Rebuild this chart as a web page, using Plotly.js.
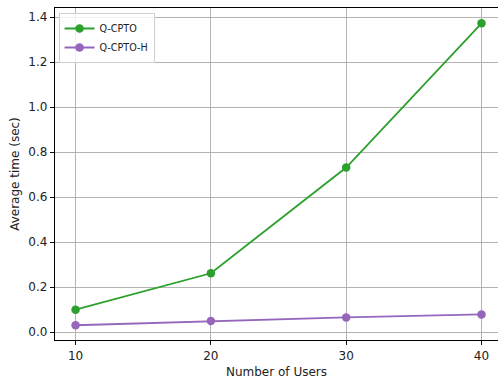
<!DOCTYPE html>
<html>
<head>
<meta charset="utf-8">
<script src="https://cdn.plot.ly/plotly-3.0.1.min.js"></script>
<style>html,body{margin:0;padding:0;background:#fff;}#chart{width:498px;height:379px;}</style>
</head>
<body>
<div id="chart"></div>
<script>
const users = [10, 20, 30, 40];
const qcpto = [0.10, 0.262, 0.732, 1.373];
const qcptoH = [0.031, 0.050, 0.066, 0.079];
const seriesNames = ["Q-CPTO", "Q-CPTO-H"];
const yTicks = [0.0, 0.2, 0.4, 0.6, 0.8, 1.0, 1.2, 1.4];

const font = "DejaVu Sans, sans-serif";
const traces = [
  {x: users, y: qcpto, name: seriesNames[0], mode: "lines+markers",
   line: {color: "#2ca02c", width: 1.8}, marker: {color: "#2ca02c", size: 8.5}},
  {x: users, y: qcptoH, name: seriesNames[1], mode: "lines+markers",
   line: {color: "#9467bd", width: 1.8}, marker: {color: "#9467bd", size: 8.5}}
];
const layout = {
  width: 498, height: 379,
  margin: {l: 55, r: 0, t: 8, b: 39},
  paper_bgcolor: "#fff", plot_bgcolor: "#fff",
  font: {family: font, size: 12, color: "#222"},
  showlegend: true,
  legend: {x: 0.008, y: 0.985, xanchor: "left", yanchor: "top",
    bgcolor: "rgba(255,255,255,0.8)", bordercolor: "#d0d0d0", borderwidth: 1,
    font: {family: font, size: 9.6, color: "#222"}, tracegroupgap: 0},
  xaxis: {range: [8.48, 41.22], tickvals: users, ticktext: users.map(String),
    showgrid: true, gridcolor: "#b0b0b0", gridwidth: 0.95,
    showline: true, linecolor: "#000", linewidth: 1, mirror: true,
    ticks: "outside", ticklen: 4.2, tickcolor: "#000", tickwidth: 0.95,
    zeroline: false,
    title: {text: "Number of Users", font: {family: font, size: 12, color: "#222"}, standoff: 6}},
  yaxis: {range: [-0.0345, 1.441], tickvals: yTicks, tickformat: ".1f",
    showgrid: true, gridcolor: "#b0b0b0", gridwidth: 0.95,
    showline: true, linecolor: "#000", linewidth: 1, mirror: false,
    ticks: "outside", ticklen: 4.2, tickcolor: "#000", tickwidth: 0.95,
    zeroline: false,
    title: {text: "Average time (sec)", font: {family: font, size: 12, color: "#222"}, standoff: 6}}
};
Plotly.newPlot("chart", traces, layout, {displayModeBar: false, staticPlot: true});
</script>
</body>
</html>
